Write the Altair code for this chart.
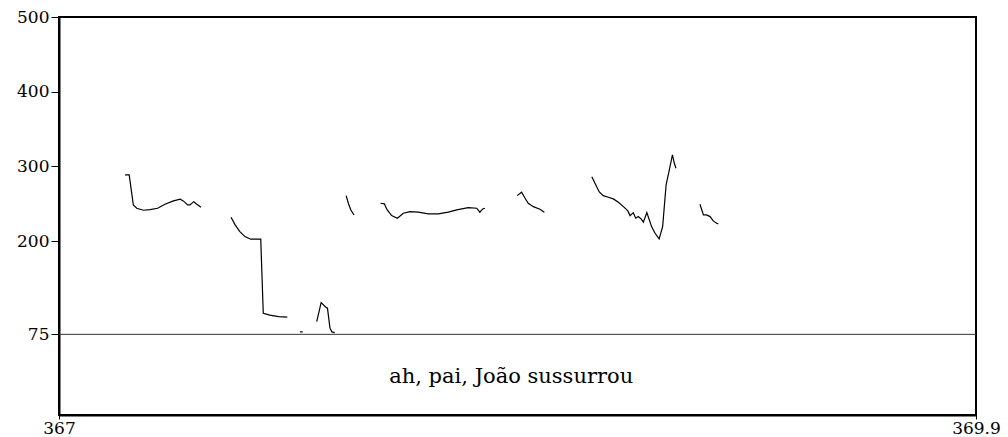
import altair as alt
import pandas as pd

# Pitch track segments (time in s, F0 in Hz)
seg1_t = [367.209, 367.222, 367.235, 367.246, 367.267, 367.288, 367.312, 367.335, 367.362, 367.383, 367.393, 367.407, 367.414, 367.426, 367.436, 367.449]
seg1_f = [288.5, 288.5, 248.3, 243.9, 241.2, 242.0, 243.9, 249.3, 253.7, 256.0, 253.7, 248.3, 248.3, 252.7, 249.3, 245.2]

seg2_t = [367.544, 367.557, 367.572, 367.588, 367.606, 367.638, 367.646, 367.667, 367.694, 367.722]
seg2_f = [231.9, 221.6, 212.6, 205.9, 202.4, 202.4, 103.3, 100.7, 98.8, 98.0]

seg3_t = [367.762, 367.771]
seg3_f = [78.3, 78.3]

seg4_t = [367.815, 367.829, 367.844, 367.849, 367.857, 367.863, 367.872]
seg4_f = [92.1, 117.5, 111.4, 110.0, 83.3, 78.3, 77.4]

seg5_t = [367.908, 367.915, 367.923, 367.933]
seg5_f = [260.8, 250.6, 241.6, 234.9]

seg6_t = [368.017, 368.029, 368.038, 368.052, 368.070, 368.089, 368.110, 368.136, 368.168, 368.200, 368.231, 368.258, 368.294, 368.321, 368.331, 368.340, 368.347]
seg6_f = [250.6, 249.7, 241.6, 234.0, 230.5, 237.2, 239.4, 238.6, 236.3, 236.3, 238.6, 241.6, 244.7, 243.9, 238.6, 243.0, 243.9]

seg7_t = [368.449, 368.463, 368.474, 368.484, 368.500, 368.521, 368.535]
seg7_f = [260.8, 265.3, 257.3, 250.6, 246.0, 242.6, 238.6]

seg8_t = [368.685, 368.695, 368.708, 368.721, 368.737, 368.753, 368.769, 368.785, 368.799, 368.806, 368.816, 368.824, 368.832, 368.841, 368.848, 368.859, 368.867, 368.874, 368.885, 368.898, 368.909, 368.920, 368.929, 368.940, 368.946, 368.951]
seg8_f = [286.2, 277.4, 266.1, 260.8, 258.6, 256.4, 251.9, 246.0, 240.3, 234.0, 238.0, 230.5, 232.7, 229.6, 225.2, 238.0, 228.2, 219.3, 210.4, 202.8, 219.3, 275.1, 292.9, 315.3, 304.1, 297.5]

seg9_t = [369.027, 369.038, 369.048, 369.059, 369.069, 369.080, 369.085]
seg9_f = [249.3, 234.9, 234.9, 232.7, 226.9, 223.8, 222.9]

segments = [(seg1_t, seg1_f), (seg2_t, seg2_f), (seg3_t, seg3_f), (seg4_t, seg4_f),
            (seg5_t, seg5_f), (seg6_t, seg6_f), (seg7_t, seg7_f), (seg8_t, seg8_f),
            (seg9_t, seg9_f)]

y_ticks = [75, 200, 300, 400, 500]
x_ticks = [367, 369.9]
floor_hz = 75
label_text = "ah, pai, João sussurrou"
label_t = 368.43
label_y = 18

rows = []
for i, (ts, fs) in enumerate(segments):
    for t, f in zip(ts, fs):
        rows.append({"t": t, "f": f, "seg": i})
df = pd.DataFrame(rows)

FONT = "DejaVu Serif"

xscale = alt.Scale(domain=[367, 369.9], nice=False, zero=False)
yscale = alt.Scale(domain=[-33, 500], nice=False, zero=False)

line = alt.Chart(df).mark_line(color="black", strokeWidth=1.2).encode(
    x=alt.X("t:Q", scale=xscale,
            axis=alt.Axis(values=x_ticks, format="~g", title=None, grid=False,
                          domainColor="black", domainWidth=2, tickColor="black",
                          tickSize=4, labelFont=FONT, labelFontSize=17,
                          labelColor="black", labelPadding=1, labelFlush=False)),
    y=alt.Y("f:Q", scale=yscale,
            axis=alt.Axis(values=y_ticks, title=None, grid=False,
                          domainColor="black", domainWidth=2, tickColor="black",
                          tickSize=8, labelFont=FONT, labelFontSize=17,
                          labelColor="black", labelPadding=2)),
    detail="seg:N",
)

rule = alt.Chart(pd.DataFrame({"y": [floor_hz]})).mark_rule(color="#333333", strokeWidth=1).encode(
    y=alt.Y("y:Q", scale=yscale)
)

text = alt.Chart(pd.DataFrame({"t": [label_t], "y": [label_y], "s": [label_text]})).mark_text(
    font=FONT, fontSize=21, color="black", align="center", baseline="middle"
).encode(
    x=alt.X("t:Q", scale=xscale), y=alt.Y("y:Q", scale=yscale), text="s:N"
)

chart = alt.layer(rule, line, text).properties(
    width=917, height=398,
    autosize="none",
    padding={"left": 59, "top": 17, "right": 32, "bottom": 22},
).configure_view(stroke="black", strokeWidth=2)

chart.save("out.html", embed_options={"renderer": "svg", "actions": False})
